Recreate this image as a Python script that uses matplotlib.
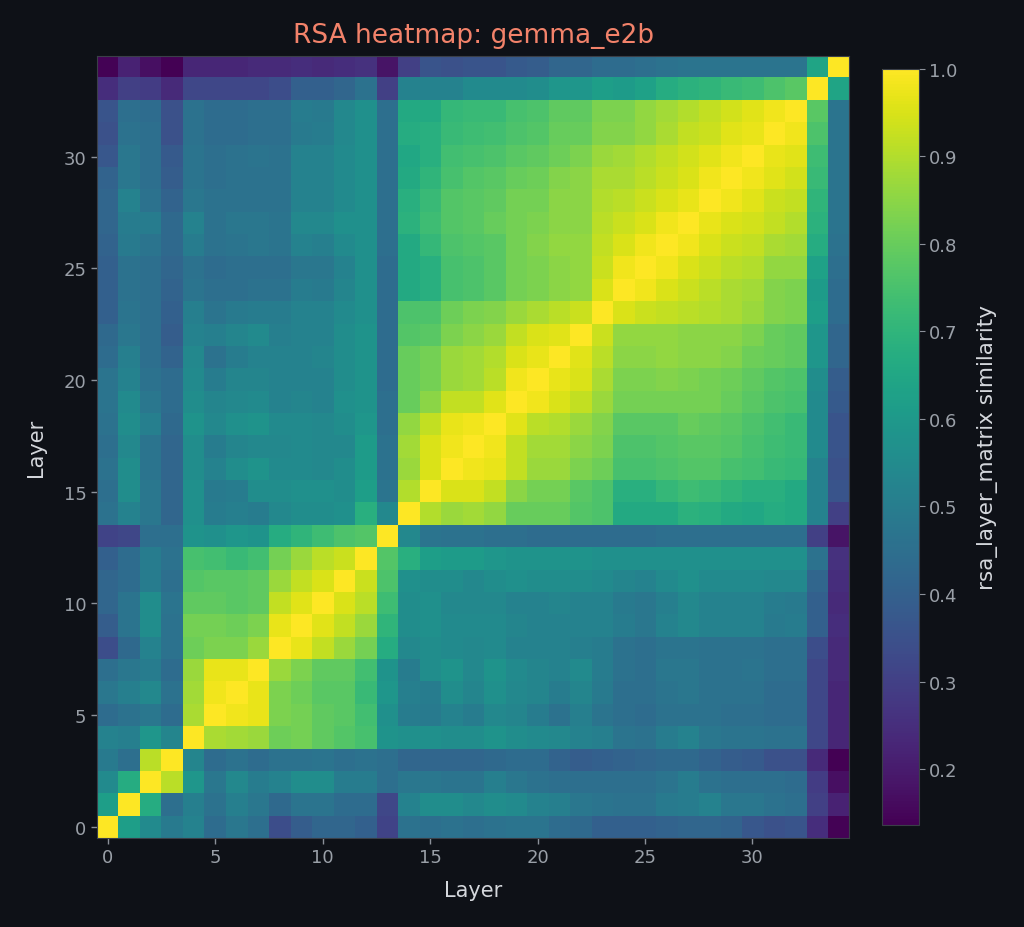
import numpy as np
import matplotlib
matplotlib.use('Agg')
import matplotlib.pyplot as plt

# layer indices and similarity values (lower triangle, row i -> columns 0..i-1; diagonal is 1.0)
layers = list(range(35))
lower_rows = [
    [],
    [0.62],
    [0.55, 0.67],
    [0.49, 0.45, 0.91],
    [0.52, 0.51, 0.59, 0.53],
    [0.44, 0.46, 0.48, 0.44, 0.89],
    [0.48, 0.51, 0.54, 0.46, 0.88, 0.98],
    [0.45, 0.48, 0.50, 0.44, 0.87, 0.97, 0.97],
    [0.34, 0.43, 0.52, 0.46, 0.81, 0.83, 0.83, 0.87],
    [0.39, 0.47, 0.56, 0.46, 0.82, 0.82, 0.81, 0.83, 0.97],
    [0.42, 0.47, 0.56, 0.47, 0.79, 0.79, 0.78, 0.79, 0.92, 0.96],
    [0.42, 0.44, 0.50, 0.45, 0.77, 0.78, 0.78, 0.79, 0.87, 0.92, 0.95],
    [0.40, 0.44, 0.50, 0.46, 0.75, 0.74, 0.72, 0.74, 0.82, 0.87, 0.91, 0.93],
    [0.31, 0.32, 0.45, 0.45, 0.58, 0.57, 0.59, 0.58, 0.67, 0.70, 0.73, 0.76, 0.77],
    [0.46, 0.52, 0.48, 0.42, 0.57, 0.50, 0.51, 0.50, 0.54, 0.56, 0.56, 0.57, 0.68, 0.54],
    [0.45, 0.56, 0.48, 0.42, 0.57, 0.49, 0.50, 0.56, 0.56, 0.57, 0.57, 0.56, 0.62, 0.47, 0.90],
    [0.46, 0.56, 0.47, 0.42, 0.56, 0.52, 0.56, 0.58, 0.55, 0.55, 0.54, 0.56, 0.61, 0.46, 0.87, 0.95],
    [0.45, 0.54, 0.47, 0.42, 0.56, 0.50, 0.53, 0.54, 0.54, 0.55, 0.54, 0.54, 0.61, 0.46, 0.88, 0.95, 0.98],
    [0.46, 0.56, 0.51, 0.43, 0.58, 0.54, 0.57, 0.58, 0.55, 0.55, 0.54, 0.56, 0.59, 0.45, 0.86, 0.92, 0.97, 0.98],
    [0.47, 0.55, 0.48, 0.44, 0.56, 0.53, 0.54, 0.55, 0.52, 0.53, 0.52, 0.57, 0.58, 0.45, 0.80, 0.85, 0.92, 0.92, 0.96],
    [0.47, 0.52, 0.46, 0.44, 0.55, 0.50, 0.53, 0.53, 0.52, 0.52, 0.52, 0.56, 0.58, 0.44, 0.80, 0.82, 0.87, 0.88, 0.91, 0.98],
    [0.44, 0.51, 0.45, 0.41, 0.54, 0.46, 0.50, 0.52, 0.52, 0.52, 0.53, 0.56, 0.58, 0.44, 0.80, 0.82, 0.87, 0.88, 0.90, 0.95, 0.97],
    [0.43, 0.48, 0.45, 0.39, 0.52, 0.51, 0.53, 0.55, 0.51, 0.52, 0.52, 0.56, 0.58, 0.44, 0.77, 0.78, 0.83, 0.85, 0.87, 0.92, 0.95, 0.96],
    [0.40, 0.47, 0.45, 0.40, 0.51, 0.47, 0.49, 0.50, 0.50, 0.52, 0.52, 0.55, 0.57, 0.44, 0.76, 0.76, 0.81, 0.83, 0.84, 0.87, 0.89, 0.91, 0.93],
    [0.40, 0.46, 0.45, 0.41, 0.47, 0.45, 0.45, 0.46, 0.46, 0.50, 0.49, 0.53, 0.57, 0.44, 0.66, 0.68, 0.75, 0.76, 0.78, 0.82, 0.83, 0.85, 0.86, 0.95],
    [0.40, 0.46, 0.45, 0.42, 0.46, 0.44, 0.45, 0.45, 0.45, 0.48, 0.48, 0.52, 0.57, 0.44, 0.66, 0.68, 0.75, 0.76, 0.78, 0.82, 0.83, 0.85, 0.86, 0.93, 0.98],
    [0.41, 0.49, 0.47, 0.43, 0.50, 0.46, 0.47, 0.48, 0.47, 0.52, 0.51, 0.55, 0.57, 0.45, 0.66, 0.71, 0.76, 0.77, 0.78, 0.82, 0.84, 0.86, 0.86, 0.92, 0.95, 0.98],
    [0.42, 0.50, 0.50, 0.43, 0.52, 0.46, 0.48, 0.48, 0.47, 0.54, 0.54, 0.57, 0.57, 0.45, 0.69, 0.73, 0.77, 0.78, 0.80, 0.82, 0.83, 0.85, 0.85, 0.91, 0.93, 0.95, 0.98],
    [0.42, 0.52, 0.46, 0.41, 0.48, 0.46, 0.46, 0.46, 0.46, 0.52, 0.52, 0.55, 0.57, 0.45, 0.68, 0.72, 0.77, 0.78, 0.79, 0.82, 0.82, 0.85, 0.85, 0.90, 0.91, 0.93, 0.95, 0.97],
    [0.41, 0.48, 0.45, 0.39, 0.47, 0.45, 0.46, 0.46, 0.46, 0.52, 0.52, 0.55, 0.57, 0.45, 0.66, 0.70, 0.75, 0.77, 0.78, 0.80, 0.81, 0.84, 0.85, 0.89, 0.89, 0.91, 0.93, 0.95, 0.98],
    [0.37, 0.48, 0.45, 0.38, 0.47, 0.45, 0.46, 0.47, 0.46, 0.52, 0.52, 0.55, 0.57, 0.45, 0.65, 0.68, 0.74, 0.75, 0.76, 0.78, 0.79, 0.81, 0.83, 0.87, 0.88, 0.90, 0.92, 0.94, 0.96, 0.98],
    [0.35, 0.46, 0.45, 0.35, 0.46, 0.44, 0.44, 0.45, 0.45, 0.49, 0.50, 0.54, 0.57, 0.45, 0.67, 0.68, 0.72, 0.73, 0.74, 0.76, 0.77, 0.80, 0.80, 0.84, 0.84, 0.86, 0.89, 0.92, 0.93, 0.96, 0.97],
    [0.36, 0.45, 0.44, 0.35, 0.46, 0.44, 0.44, 0.45, 0.45, 0.50, 0.49, 0.54, 0.57, 0.45, 0.66, 0.66, 0.71, 0.72, 0.72, 0.75, 0.76, 0.79, 0.79, 0.83, 0.83, 0.86, 0.88, 0.90, 0.92, 0.94, 0.96, 0.98],
    [0.25, 0.30, 0.29, 0.24, 0.32, 0.32, 0.32, 0.32, 0.34, 0.40, 0.40, 0.42, 0.46, 0.30, 0.52, 0.52, 0.52, 0.55, 0.55, 0.55, 0.56, 0.59, 0.59, 0.62, 0.61, 0.63, 0.67, 0.69, 0.70, 0.72, 0.73, 0.76, 0.78],
    [0.14, 0.22, 0.17, 0.136, 0.23, 0.23, 0.23, 0.24, 0.24, 0.25, 0.24, 0.25, 0.26, 0.18, 0.30, 0.36, 0.35, 0.36, 0.36, 0.38, 0.39, 0.42, 0.42, 0.44, 0.44, 0.45, 0.46, 0.47, 0.47, 0.47, 0.47, 0.47, 0.47, 0.64],
]

n = len(layers)
sim = np.eye(n)
for i, row in enumerate(lower_rows):
    sim[i, :i] = row
    sim[:i, i] = row

bg = '#0e1117'
plt.rcParams['font.family'] = ['DejaVu Sans']

fig = plt.figure(figsize=(10.24, 9.28), dpi=100, facecolor=bg)
ax = fig.add_axes([0.0947, 0.0959, 0.7346, 0.8427])
ax.set_facecolor(bg)
im = ax.imshow(sim, origin='lower', cmap='viridis', aspect='auto', interpolation='nearest')

ax.set_xticks(range(0, n, 5))
ax.set_yticks(range(0, n, 5))
ax.tick_params(colors='#8c919a', labelsize=13, length=4, width=1)
for lab in ax.get_xticklabels() + ax.get_yticklabels():
    lab.set_color('#9aa0a8')
for s in ax.spines.values():
    s.set_color('#3a3f48')

ax.set_xlabel('Layer', color='#d4d7dc', fontsize=15, labelpad=10)
ax.set_ylabel('Layer', color='#d4d7dc', fontsize=15, labelpad=13)
ax.set_title('RSA heatmap: gemma_e2b', color='#f2826a', fontsize=19, pad=10)

cax = fig.add_axes([0.8613, 0.1099, 0.0361, 0.8147])
cb = fig.colorbar(im, cax=cax)
cb.outline.set_edgecolor('#3a3f48')
cb.ax.tick_params(colors='#8c919a', labelsize=13, length=4)
for lab in cb.ax.get_yticklabels():
    lab.set_color('#9aa0a8')
cb.set_label('rsa_layer_matrix similarity', color='#d4d7dc', fontsize=15.5, labelpad=14)

fig.savefig('out.png', dpi=100, facecolor=bg)
